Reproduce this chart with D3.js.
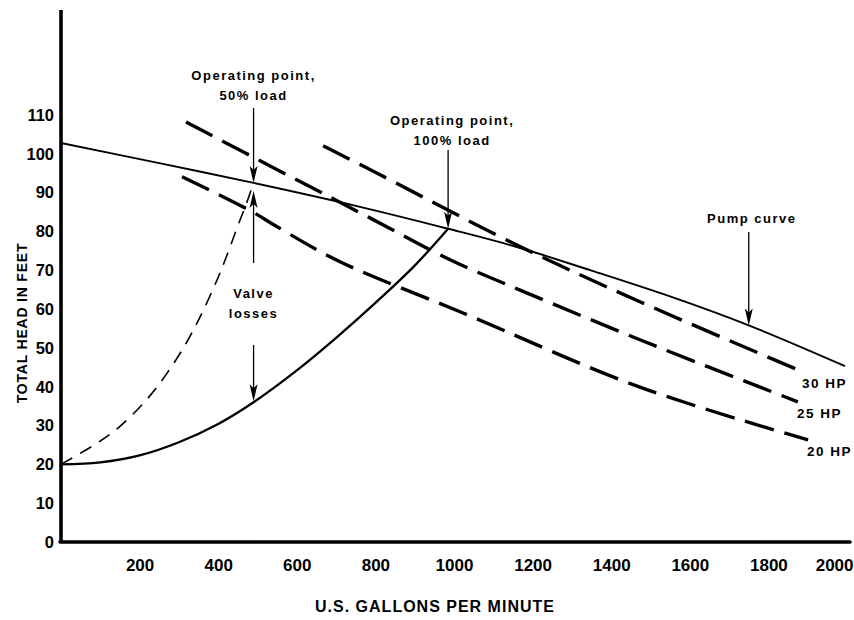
<!DOCTYPE html>
<html>
<head>
<meta charset="utf-8">
<script src="https://cdn.jsdelivr.net/npm/d3@7"></script>
<style>
  body { margin: 0; background: #fff; }
  svg text { font-family: "Liberation Sans", Arial, sans-serif; font-weight: bold; fill: #000; }
</style>
</head>
<body>
<svg id="chart" width="854" height="620"></svg>
<script>
// values: [gpm, head in feet]
const X_TICKS = [200, 400, 600, 800, 1000, 1200, 1400, 1600, 1800, 2000];
const Y_TICKS = [0, 10, 20, 30, 40, 50, 60, 70, 80, 90, 100, 110];

const PUMP_CURVE = [[0, 102.8], [250, 97.6], [490, 92.5], [750, 86.6], [985, 80.7], [1160, 76], [1350, 69.9], [1557, 63], [1750, 55.8], [1995, 45.3]];
const SYSTEM_FULL = [[0, 20], [100, 20.5], [200, 22.3], [300, 25.7], [400, 30.4], [490, 36], [600, 44.2], [700, 52.6], [800, 61.6], [900, 71.2], [985, 80.7]];
const SYSTEM_HALF = [[0, 20], [92, 25.5], [150, 29.8], [219, 36.8], [270, 43.5], [316, 50.8], [354, 58], [397, 67.5], [422, 73.8], [450, 81.5], [473, 87.5], [490, 92.5]];

const HP_30 = [[667, 102.1], [812, 94.6], [1160, 76.5], [1473, 61.9], [1888, 43.8]];
const HP_25 = [[318, 108.2], [575, 94.6], [786, 83.5], [990, 72.7], [1168, 64.9], [1473, 52.1], [1875, 36.1]];
const HP_20 = [[308, 94.1], [486, 85.1], [550, 81.2], [710, 72.2], [1023, 59], [1473, 39.9], [1901, 26.3]];
const HP_CURVES = [HP_30, HP_25, HP_20];
const HP_LABELS = ['30 HP', '25 HP', '20 HP'];

const OP_HALF = [490, 92.5];
const OP_FULL = [985, 80.7];
const VALVE_LOW = [490, 36];
const PUMP_MARK = [1750, 55.8];

const svg = d3.select('#chart');
const x = d3.scaleLinear().domain([0, 2000]).range([61, 847]);
const y = d3.scaleLinear().domain([0, 110]).range([542, 115]);

const line = d3.line().x(d => x(d[0])).y(d => y(d[1])).curve(d3.curveCatmullRom.alpha(0.5));

// horsepower lines
HP_CURVES.forEach((c, i) => {
  svg.append('path').datum(c)
    .attr('d', line)
    .attr('fill', 'none')
    .attr('stroke', '#000')
    .attr('stroke-width', 3.4)
    .attr('stroke-dasharray', '30,11');
  const end = c[c.length - 1];
  svg.append('text')
    .attr('x', x(end[0]) - 1)
    .attr('y', y(end[1]) + 16)
    .attr('font-size', 13.5)
    .attr('letter-spacing', 1.5)
    .text(HP_LABELS[i]);
});

svg.append('path').datum(PUMP_CURVE)
  .attr('d', line).attr('fill', 'none').attr('stroke', '#000').attr('stroke-width', 1.9);

svg.append('path').datum(SYSTEM_FULL)
  .attr('d', line).attr('fill', 'none').attr('stroke', '#000').attr('stroke-width', 2.3);

svg.append('path').datum(SYSTEM_HALF)
  .attr('d', line).attr('fill', 'none').attr('stroke', '#000').attr('stroke-width', 1.6)
  .attr('stroke-dasharray', '13,9');

// arrows
function arrow(px, y0, y1) {
  const dir = y1 > y0 ? 1 : -1;
  svg.append('line')
    .attr('x1', px).attr('x2', px)
    .attr('y1', y0).attr('y2', y1 - dir * 10)
    .attr('stroke', '#000').attr('stroke-width', 1.3);
  svg.append('path')
    .attr('d', `M${px},${y1}L${px - 4},${y1 - dir * 17}L${px},${y1 - dir * 13}L${px + 4},${y1 - dir * 17}Z`)
    .attr('fill', '#000');
}

function label(px, py, lines, gap) {
  lines.forEach((t, i) => {
    svg.append('text')
      .attr('x', px).attr('y', py + i * gap)
      .attr('text-anchor', 'middle')
      .attr('font-size', 13)
      .attr('letter-spacing', 1.5)
      .text(t);
  });
}

arrow(x(OP_HALF[0]), 108, y(OP_HALF[1]));
arrow(x(OP_HALF[0]), 263, y(OP_HALF[1]) + 8);
arrow(x(VALVE_LOW[0]), 345, y(VALVE_LOW[1]) - 1);
arrow(x(OP_FULL[0]), 150, y(OP_FULL[1]));
arrow(x(PUMP_MARK[0]), 232, y(PUMP_MARK[1]));

label(x(OP_HALF[0]), 80, ['Operating point,', '50% load'], 20);
label(x(OP_FULL[0]) + 4, 125, ['Operating point,', '100% load'], 20);
label(x(OP_HALF[0]), 298, ['Valve', 'losses'], 20);
label(x(PUMP_MARK[0]) + 3, 223, ['Pump curve'], 20);

// axes
const xAxis = svg.append('g')
  .attr('transform', `translate(0,${y(0)})`)
  .call(d3.axisBottom(x).tickValues(X_TICKS).tickFormat(d3.format('d')).tickSize(0).tickPadding(17));
xAxis.select('.domain').remove();
xAxis.selectAll('text').attr('font-size', 17).attr('font-family', null);
xAxis.selectAll('.tick').filter(d => d === 2000).select('text')
  .attr('text-anchor', 'end').attr('x', 6);

const yAxis = svg.append('g')
  .attr('transform', `translate(${x(0)},0)`)
  .call(d3.axisLeft(y).tickValues(Y_TICKS).tickFormat(d3.format('d')).tickSize(0).tickPadding(7));
yAxis.select('.domain').remove();
yAxis.selectAll('text').attr('font-size', 16.5).attr('font-family', null);

svg.append('line')
  .attr('x1', x(0)).attr('x2', x(0))
  .attr('y1', 10).attr('y2', y(0))
  .attr('stroke', '#000').attr('stroke-width', 3.6);
svg.append('line')
  .attr('x1', x(0) - 1).attr('x2', 850)
  .attr('y1', y(0)).attr('y2', y(0))
  .attr('stroke', '#000').attr('stroke-width', 3.6).attr('stroke-linecap', 'round');

svg.append('text')
  .attr('x', 435).attr('y', 612)
  .attr('text-anchor', 'middle')
  .attr('font-size', 16)
  .attr('letter-spacing', 1)
  .text('U.S. GALLONS PER MINUTE');

svg.append('text')
  .attr('transform', 'translate(27,323) rotate(-90)')
  .attr('text-anchor', 'middle')
  .attr('font-size', 14)
  .attr('letter-spacing', 0.8)
  .text('TOTAL HEAD IN FEET');
</script>
</body>
</html>
